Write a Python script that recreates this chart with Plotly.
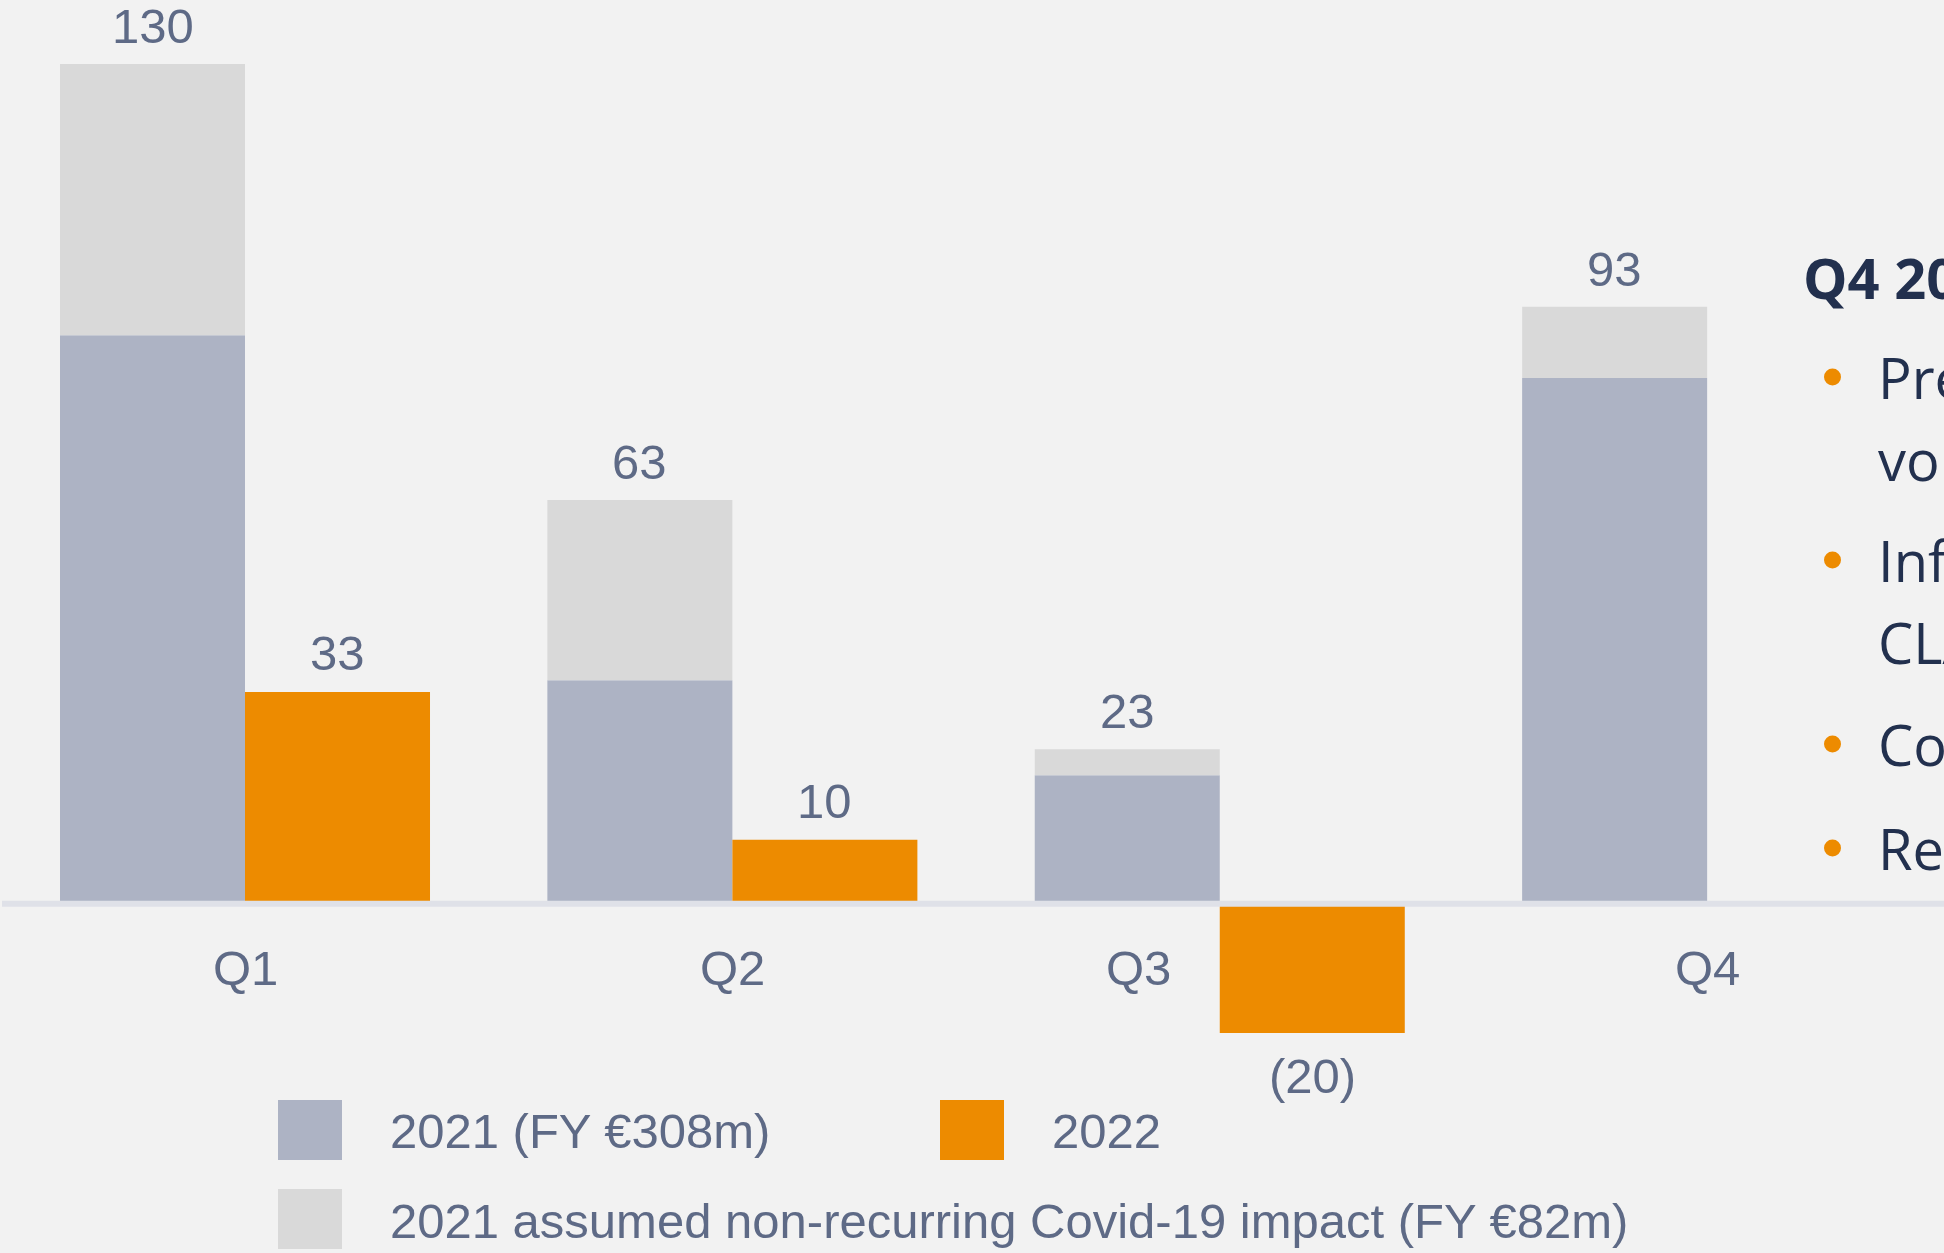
import plotly.graph_objects as go

# ---------------- data ----------------
quarters = ["Q1", "Q2", "Q3", "Q4"]
base_2021 = [88.0, 34.6, 19.9, 81.4]          # 2021 excluding Covid impact
covid_2021 = [42.0, 27.9, 4.0, 11.0]          # assumed non-recurring Covid-19 impact
labels_2021 = ["130", "63", "23", "93"]
values_2022 = [32.8, 9.9, -20.0]
labels_2022 = ["33", "10", "(20)"]
legend_names = ["2021 (FY €308m)", "2022", "2021 assumed non-recurring Covid-19 impact (FY €82m)"]
side_title = "Q4 2022"
side_lines = ["Pressure", "volumes", "Inflation", "CLA", "Costs", "Re"]

# ---------------- style ----------------
W, H = 1944, 1253
BG = "#f2f2f2"
C_BASE = "#adb3c4"
C_COVID = "#d9d9d9"
C_ORANGE = "#ed8b00"
C_LABEL = "#5e6a86"
C_NAVY = "#22304e"
C_AXIS = "#dfe1e8"
FONT = "Liberation Sans Narrow, Arial Narrow, Liberation Sans, sans-serif"
FS = 49
BW = 0.3796  # bar width in category units

def px(x):
    return x / W

def py(y):
    return 1 - y / H

xi = list(range(len(quarters)))
xi22 = list(range(len(values_2022)))

fig = go.Figure()
fig.add_trace(go.Bar(x=xi, y=base_2021, width=BW, offset=-BW,
                     marker=dict(color=C_BASE, line=dict(width=0)), name=legend_names[0]))
fig.add_trace(go.Bar(x=xi, y=covid_2021, base=base_2021, width=BW, offset=-BW,
                     marker=dict(color=C_COVID, line=dict(width=0)), name=legend_names[2]))
fig.add_trace(go.Bar(x=xi22, y=values_2022, width=BW, offset=0,
                     marker=dict(color=C_ORANGE, line=dict(width=0)), name=legend_names[1]))

annotations = []
# value labels 2021
for i, (b, c, t) in enumerate(zip(base_2021, covid_2021, labels_2021)):
    annotations.append(dict(x=i - BW / 2, y=b + c, xref="x", yref="y", text=t, showarrow=False,
                            yanchor="middle", xanchor="center", yshift=38,
                            font=dict(family=FONT, size=FS, color=C_LABEL)))
# value labels 2022
for i, (v, t) in enumerate(zip(values_2022, labels_2022)):
    annotations.append(dict(x=i + BW / 2, y=v, xref="x", yref="y", text=t, showarrow=False,
                            yanchor="middle", xanchor="center", yshift=39 if v >= 0 else -43,
                            font=dict(family=FONT, size=FS, color=C_LABEL)))
# category labels
q_shift = [0, 0, -81, 0]
for i, q in enumerate(quarters):
    annotations.append(dict(x=i, y=0, xref="x", yref="y", text=q, showarrow=False,
                            yanchor="middle", xanchor="center", yshift=-64, xshift=q_shift[i],
                            font=dict(family=FONT, size=FS, color=C_LABEL)))

shapes = []
# zero line
shapes.append(dict(type="line", xref="paper", yref="y", x0=px(2), x1=1, y0=0, y1=0,
                   line=dict(color=C_AXIS, width=6), layer="above"))

# legend (custom)
leg = [(278, 1100, C_BASE, legend_names[0], 388, 1131),
       (940, 1100, C_ORANGE, legend_names[1], 1050, 1131),
       (278, 1189, C_COVID, legend_names[2], 388, 1221)]
for x0, y0, col, name, tx, ty in leg:
    shapes.append(dict(type="rect", xref="paper", yref="paper", x0=px(x0), x1=px(x0 + 64),
                       y0=py(y0 + 60), y1=py(y0), fillcolor=col, line=dict(width=0)))
    annotations.append(dict(x=px(tx), y=py(ty), xref="paper", yref="paper", text=name,
                            showarrow=False, xanchor="left", yanchor="middle",
                            font=dict(family=FONT, size=FS, color=C_LABEL)))

# right-hand commentary (cut by the slide edge)
SFONT = "Open Sans, Noto Sans, sans-serif"
annotations.append(dict(x=px(1801), y=py(277), xref="paper", yref="paper",
                        text="<b>" + side_title + "</b>", showarrow=False,
                        xanchor="left", yanchor="middle",
                        font=dict(family=SFONT, size=56, color=C_NAVY)))
line_y = [377, 459, 560, 642, 744, 848]
for t, yy in zip(side_lines, line_y):
    annotations.append(dict(x=px(1876), y=py(yy), xref="paper", yref="paper", text=t,
                            showarrow=False, xanchor="left", yanchor="middle",
                            font=dict(family=SFONT, size=56, color=C_NAVY)))
for yy in [377, 560, 744, 848]:
    shapes.append(dict(type="circle", xref="paper", yref="paper",
                       x0=px(1824), x1=px(1841), y0=py(yy + 8.5), y1=py(yy - 8.5),
                       fillcolor=C_ORANGE, line=dict(width=0)))

fig.update_layout(
    width=W, height=H,
    margin=dict(l=0, r=0, t=0, b=0),
    paper_bgcolor=BG, plot_bgcolor=BG,
    barmode="overlay",
    showlegend=False,
    hovermode=False,
    xaxis=dict(visible=False, range=[-0.5027, 3.486], fixedrange=True),
    yaxis=dict(visible=False, range=[-54.06, 139.9], fixedrange=True),
    annotations=annotations,
    shapes=shapes,
)

fig.write_html("out.html", config={"displayModeBar": False},
               post_script="document.body.style.margin='0';document.body.style.overflow='hidden';")
